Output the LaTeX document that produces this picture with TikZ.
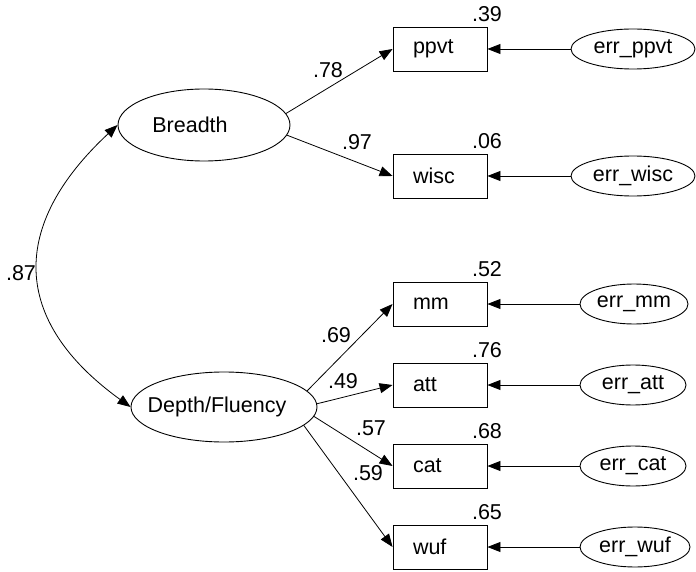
\documentclass[tikz,border=0pt]{standalone}
\usepackage{fontspec}
\setmainfont{Liberation Sans}
\usetikzlibrary{shapes.geometric,arrows.meta}
\begin{document}
\begin{tikzpicture}[x=1pt,y=-1pt,
  every node/.style={font=\fontsize{21.5}{25}\selectfont},
  obs/.style={draw, line width=0.9pt, text width=54pt, inner xsep=20pt, inner ysep=0pt, align=left, minimum height=44pt},
  lat/.style={draw, ellipse, line width=0.9pt, inner sep=0pt},
  errnode/.style={draw, ellipse, line width=0.9pt, inner sep=0pt, minimum height=40pt},
  conn/.style={line width=0.8pt, -{Triangle[length=13pt,width=10pt]}},
  lbl/.style={inner sep=0pt}
]
\useasboundingbox (0,0) rectangle (696,572);

% latent variables
\node[lat, minimum width=172pt, minimum height=72pt] (B) at (204,125) {};
\node[lbl] (Bt) at (190,125) {Breadth};
\node[lat, minimum width=186pt, minimum height=70pt] (D) at (224,407) {};
\node[lbl] (Dt) at (217,407) {Depth/Fluency};

% observed variables
\node[obs] (ppvt) at (440,49) {ppvt};
\node[obs] (wisc) at (440,176) {wisc};
\node[obs] (mm) at (440,304) {mm};
\node[obs] (att) at (440,385) {att};
\node[obs] (cat) at (440,466) {cat};
\node[obs] (wuf) at (440,547) {wuf};

% error terms
\node[errnode, minimum width=124pt] (eppvt) at (633,49) {err\_ppvt};
\node[errnode, minimum width=124pt] (ewisc) at (633,176) {err\_wisc};
\node[errnode, minimum width=108pt] (emm) at (634,304) {err\_mm};
\node[errnode, minimum width=106pt] (eatt) at (633,385) {err\_att};
\node[errnode, minimum width=106pt] (ecat) at (633,466) {err\_cat};
\node[errnode, minimum width=110pt] (ewuf) at (635,547) {err\_wuf};

% R squared
\node[lbl] (r1) at (487,14) {.39};
\node[lbl] (r2) at (487,141) {.06};
\node[lbl] (r3) at (487,269) {.52};
\node[lbl] (r4) at (487,350) {.76};
\node[lbl] (r5) at (487,431) {.68};
\node[lbl] (r6) at (487,512) {.65};

% loadings
\draw[conn] (B.8) -- (ppvt.west);
\draw[conn] (B.-7) -- (wisc.west);
\draw[conn] (D.11) -- (mm.west);
\draw[conn] (D.2.5) -- (att.west);
\draw[conn] (D.-6) -- (cat.west);
\draw[conn] (D.-13) -- (wuf.west);

\node[lbl] (l1) at (328,70) {.78};
\node[lbl] (l2) at (357,142) {.97};
\node[lbl] (l3) at (336,335) {.69};
\node[lbl] (l4) at (343,381) {.49};
\node[lbl] (l5) at (371,428) {.57};
\node[lbl] (l6) at (368,473) {.59};

% error arrows
\draw[conn] (eppvt.west) -- (ppvt.east);
\draw[conn] (ewisc.west) -- (wisc.east);
\draw[conn] (emm.west) -- (mm.east);
\draw[conn] (eatt.west) -- (att.east);
\draw[conn] (ecat.west) -- (cat.east);
\draw[conn] (ewuf.west) -- (wuf.east);

% correlation
\draw[line width=0.8pt, {Triangle[length=13pt,width=10pt]}-{Triangle[length=13pt,width=10pt]}]
  (B.west) .. controls (10,225) and (10,320) .. (D.west);
\node[lbl] (corr) at (21,273) {.87};
\end{tikzpicture}
\end{document}
